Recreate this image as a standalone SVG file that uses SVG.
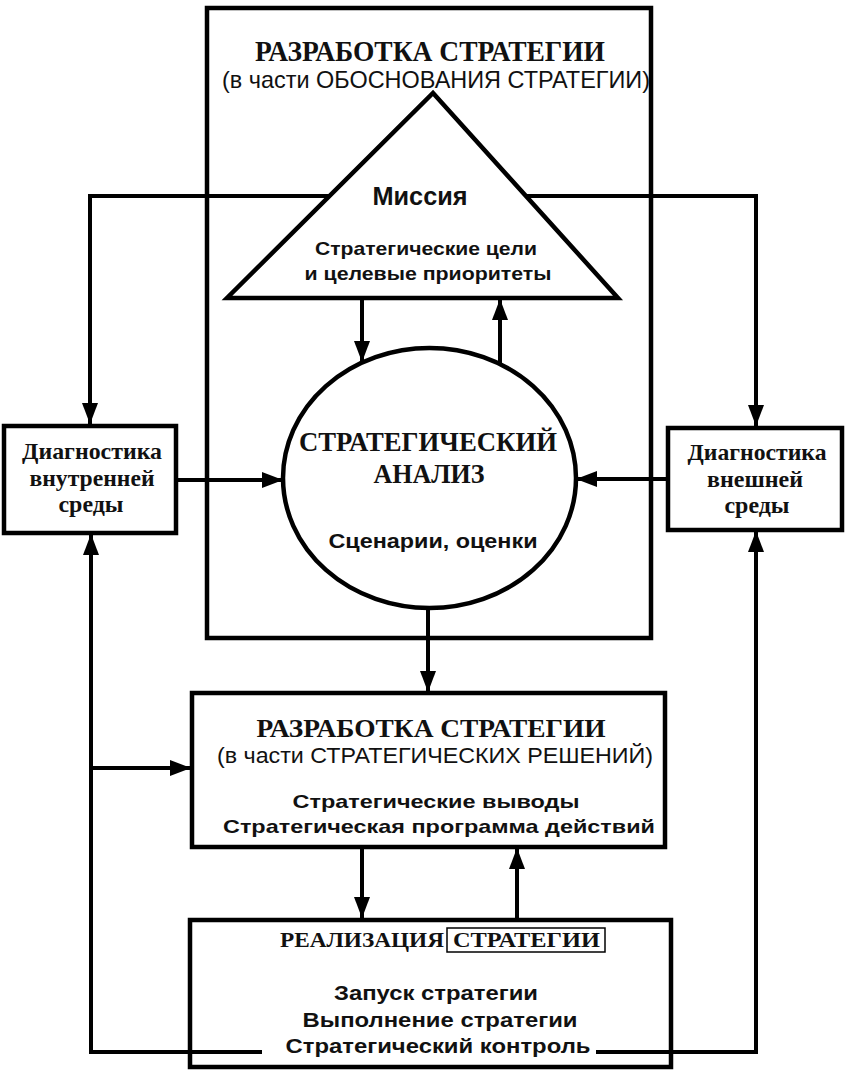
<svg xmlns="http://www.w3.org/2000/svg" width="857" height="1084" viewBox="0 0 857 1084">
<defs>
<style>
.box{fill:none;stroke:#000;stroke-width:4.5}
.wbox{fill:#fff;stroke:#000;stroke-width:4.5}
.con{fill:none;stroke:#000;stroke-width:4}
.ser{font-family:"Liberation Serif","Times New Roman",serif;font-weight:bold;fill:#111;text-anchor:middle}
.sans{font-family:"Liberation Sans",Arial,sans-serif;fill:#111;text-anchor:middle}
.b{font-weight:bold}
</style>
<marker id="ah" markerUnits="userSpaceOnUse" markerWidth="21" markerHeight="16" viewBox="0 0 21 16" refX="21" refY="8" orient="auto">
<path d="M0,0 L21,8 L0,16 z" fill="#000"/>
</marker>
</defs>
<rect width="857" height="1084" fill="#fff"/>

<g id="connectors">
<path class="con" d="M330,196 H90 V424" marker-end="url(#ah)"/>
<path class="con" d="M526,196 H756 V426" marker-end="url(#ah)"/>
<path class="con" d="M176,480 H283" marker-end="url(#ah)"/>
<path class="con" d="M668,479 H576" marker-end="url(#ah)"/>
<path class="con" d="M362,298 V362" marker-end="url(#ah)"/>
<path class="con" d="M500,364 V299" marker-end="url(#ah)"/>
<path class="con" d="M428,608 V692" marker-end="url(#ah)"/>
<path class="con" d="M362,847 V918" marker-end="url(#ah)"/>
<path class="con" d="M517,920 V848" marker-end="url(#ah)"/>
<path class="con" d="M262,1052 H91 V534" marker-end="url(#ah)"/>
<path class="con" d="M91,768 H191" marker-end="url(#ah)"/>
<path class="con" d="M596,1052 H756 V531" marker-end="url(#ah)"/>
</g>

<g id="strategy-development-justification">
<rect class="box" x="207" y="8" width="444" height="630"/>
<text class="ser" x="430" y="61" font-size="30" textLength="350" lengthAdjust="spacingAndGlyphs">РАЗРАБОТКА СТРАТЕГИИ</text>
<text class="sans" x="436" y="88" font-size="24" textLength="428" lengthAdjust="spacingAndGlyphs">(в части ОБОСНОВАНИЯ СТРАТЕГИИ)</text>
</g>

<g id="mission">
<polygon class="wbox" points="433,93 618,298 227,298" stroke-linejoin="miter"/>
<text class="sans b" x="420" y="205" font-size="25" textLength="95" lengthAdjust="spacingAndGlyphs">Миссия</text>
<text class="sans b" x="426" y="255" font-size="19" textLength="222" lengthAdjust="spacingAndGlyphs">Стратегические цели</text>
<text class="sans b" x="428" y="280" font-size="19" textLength="247" lengthAdjust="spacingAndGlyphs">и целевые приоритеты</text>
</g>

<g id="strategic-analysis">
<ellipse class="wbox" cx="429.5" cy="478" rx="146.5" ry="130"/>
<text class="ser" x="428" y="451" font-size="28" textLength="258" lengthAdjust="spacingAndGlyphs">СТРАТЕГИЧЕСКИЙ</text>
<text class="ser" x="429" y="483" font-size="28" textLength="111" lengthAdjust="spacingAndGlyphs">АНАЛИЗ</text>
<text class="sans b" x="433" y="548" font-size="20" textLength="209" lengthAdjust="spacingAndGlyphs">Сценарии, оценки</text>
</g>

<g id="internal-diagnostics">
<rect class="wbox" x="4" y="426" width="172" height="107"/>
<text class="ser" x="92" y="459" font-size="23" textLength="140" lengthAdjust="spacingAndGlyphs">Диагностика</text>
<text class="ser" x="92" y="486" font-size="23" textLength="125" lengthAdjust="spacingAndGlyphs">внутренней</text>
<text class="ser" x="91" y="512" font-size="23" textLength="65" lengthAdjust="spacingAndGlyphs">среды</text>
</g>

<g id="external-diagnostics">
<rect class="wbox" x="668" y="428" width="174" height="102"/>
<text class="ser" x="757" y="460" font-size="23" textLength="139" lengthAdjust="spacingAndGlyphs">Диагностика</text>
<text class="ser" x="755" y="487" font-size="23" textLength="96" lengthAdjust="spacingAndGlyphs">внешней</text>
<text class="ser" x="757" y="513" font-size="23" textLength="65" lengthAdjust="spacingAndGlyphs">среды</text>
</g>

<g id="strategy-development-decisions">
<rect class="wbox" x="192" y="693" width="473" height="154"/>
<text class="ser" x="431" y="737" font-size="26" textLength="349" lengthAdjust="spacingAndGlyphs">РАЗРАБОТКА СТРАТЕГИИ</text>
<text class="sans" x="435" y="763" font-size="22" textLength="436" lengthAdjust="spacingAndGlyphs">(в части СТРАТЕГИЧЕСКИХ РЕШЕНИЙ)</text>
<text class="sans b" x="436" y="808" font-size="19" textLength="287" lengthAdjust="spacingAndGlyphs">Стратегические выводы</text>
<text class="sans b" x="439" y="833" font-size="19" textLength="432" lengthAdjust="spacingAndGlyphs">Стратегическая программа действий</text>
</g>

<g id="strategy-implementation">
<rect class="box" x="190" y="920" width="481" height="147"/>
<text class="ser" x="362" y="947" font-size="21" textLength="164" lengthAdjust="spacingAndGlyphs">РЕАЛИЗАЦИЯ</text>
<rect x="447" y="928" width="158" height="24" fill="none" stroke="#000" stroke-width="1.5"/>
<text class="ser" x="526.5" y="947" font-size="21" textLength="147" lengthAdjust="spacingAndGlyphs">СТРАТЕГИИ</text>
<text class="sans b" x="436" y="1000" font-size="20" textLength="204" lengthAdjust="spacingAndGlyphs">Запуск стратегии</text>
<text class="sans b" x="440" y="1027" font-size="20" textLength="275" lengthAdjust="spacingAndGlyphs">Выполнение стратегии</text>
<text class="sans b" x="438" y="1053" font-size="20" textLength="305" lengthAdjust="spacingAndGlyphs">Стратегический контроль</text>
</g>
</svg>
